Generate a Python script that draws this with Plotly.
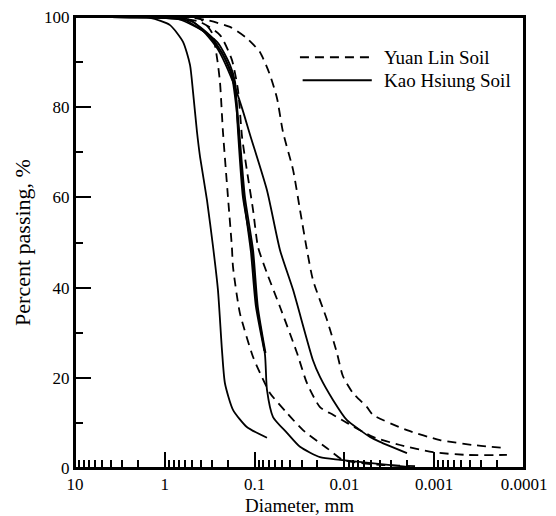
import plotly.graph_objects as go

# ---------------- data (diameter in mm, percent passing) ----------------
# Yuan Lin Soil (dashed)
yl1_d = [1.0, 0.6, 0.405, 0.298, 0.262, 0.243, 0.225, 0.198, 0.179, 0.174, 0.146, 0.104, 0.0871, 0.0673, 0.0436, 0.0289, 0.0156, 0.0104, 0.004, 0.00144]
yl1_p = [100, 100, 99.6, 96.5, 90.9, 85.6, 74.5, 60.1, 49.0, 44.6, 34.4, 24.6, 21.1, 16.6, 12.2, 8.4, 4.4, 1.8, 0.7, 0.4]

yl2_d = [1.2, 0.946, 0.405, 0.243, 0.179, 0.153, 0.138, 0.122, 0.104, 0.0916, 0.0728, 0.0521, 0.0337, 0.0261, 0.0187, 0.0134, 0.00936, 0.00481, 0.0024, 0.00103, 0.000431, 0.000155]
yl2_p = [100, 100, 98.9, 96.0, 90.5, 83.8, 73.4, 66.1, 57.2, 49.0, 43.2, 35.7, 25.5, 18.8, 13.5, 11.8, 10.0, 6.9, 5.1, 3.5, 2.9, 2.9]

yl3_d = [1.0, 0.6, 0.339, 0.188, 0.122, 0.0871, 0.0673, 0.0563, 0.0483, 0.0373, 0.0312, 0.0261, 0.0224, 0.0156, 0.0121, 0.0104, 0.00802, 0.0056, 0.00481, 0.00201, 0.00086, 0.00037, 0.000155]
yl3_p = [100, 100, 99.3, 97.8, 95.3, 92.2, 87.1, 82.0, 74.5, 66.1, 57.2, 48.3, 41.7, 32.8, 25.5, 20.4, 16.6, 13.5, 11.8, 8.4, 6.2, 5.1, 4.4]

# Kao Hsiung Soil (solid)
kh1_d = [4.0, 1.46, 0.875, 0.627, 0.524, 0.485, 0.438, 0.405, 0.339, 0.290, 0.256, 0.231, 0.214, 0.174, 0.122, 0.0728]
kh1_p = [100, 99.8, 98.2, 94.5, 89.4, 83.4, 74.5, 69.0, 59.4, 49.0, 39.5, 26.2, 18.8, 12.9, 9.1, 6.7]

kh2_d = [4.0, 1.5, 0.627, 0.262, 0.188, 0.165, 0.157, 0.153, 0.135, 0.107, 0.094, 0.0766, 0.0728, 0.0623, 0.0436, 0.0312, 0.0187, 0.0112, 0.00186]
kh2_p = [100, 99.9, 99.5, 94.5, 89.4, 85.6, 78.3, 74.5, 60.1, 48.3, 35.7, 25.1, 17.3, 11.3, 7.8, 4.7, 2.4, 1.8, 0.2]

kh3_d = [4.0, 1.5, 0.55, 0.30, 0.21, 0.17, 0.155, 0.148, 0.128, 0.104, 0.092, 0.0755]
kh3_p = [100, 99.9, 99.5, 95.5, 90.5, 86.0, 79.0, 74.5, 60.0, 48.3, 35.7, 25.5]

kh4_d = [4.0, 1.5, 0.7, 0.35, 0.23, 0.18, 0.16, 0.15, 0.132, 0.11, 0.097, 0.078]
kh4_p = [100, 99.9, 99.5, 96.5, 92.0, 87.0, 80.0, 74.0, 60.0, 48.0, 36.0, 26.0]

kh5_d = [4.0, 1.5, 0.485, 0.262, 0.174, 0.138, 0.112, 0.0728, 0.0521, 0.0373, 0.0224, 0.0187, 0.0134, 0.00936, 0.0067, 0.00519, 0.00402, 0.00201]
kh5_p = [100, 99.9, 98.9, 93.1, 85.6, 79.8, 73.8, 61.6, 48.3, 39.5, 23.9, 20.2, 15.1, 10.6, 8.4, 6.9, 5.8, 3.3]

x_tick_vals = [10, 1, 0.1, 0.01, 0.001, 0.0001]
x_tick_text = ["10", "1", "0.1", "0.01", "0.001", "0.0001"]
y_tick_vals = [0, 20, 40, 60, 80, 100]
y_minor_vals = [10, 30, 50, 70, 90]

legend_names = ["Yuan Lin Soil", "Kao Hsiung Soil"]

FONT = "Liberation Serif, Times New Roman, serif"
DASH = "9px,6px"

fig = go.Figure()
for d, p in [(yl1_d, yl1_p), (yl2_d, yl2_p), (yl3_d, yl3_p)]:
    fig.add_trace(go.Scatter(x=d, y=p, mode="lines", showlegend=False, cliponaxis=False,
                             line=dict(color="black", width=1.8, dash=DASH, shape="spline", smoothing=0.6)))
for d, p in [(kh1_d, kh1_p), (kh2_d, kh2_p), (kh3_d, kh3_p), (kh4_d, kh4_p), (kh5_d, kh5_p)]:
    fig.add_trace(go.Scatter(x=d, y=p, mode="lines", showlegend=False, cliponaxis=False,
                             line=dict(color="black", width=1.8, shape="spline", smoothing=0.6)))

x_minor = [m * 10.0 ** e for e in range(-4, 1) for m in range(2, 10)]

fig.update_layout(
    width=556, height=516,
    margin=dict(l=75, r=32, t=17, b=48),
    paper_bgcolor="white", plot_bgcolor="rgba(0,0,0,0)",
    font=dict(family=FONT, size=17, color="black"),
    showlegend=False,
    xaxis=dict(type="log", range=[1, -4], showgrid=False, zeroline=False, automargin=False,
               showline=True, linecolor="black", linewidth=2, mirror=True,
               ticks="inside", ticklen=16, tickwidth=1.5, tickcolor="black",
               tickvals=x_tick_vals, ticktext=x_tick_text,
               minor=dict(tickvals=x_minor, ticks="inside", ticklen=8, tickwidth=1.5, tickcolor="black"),
               title=dict(text="Diameter, mm", standoff=6, font=dict(size=19))),
    yaxis=dict(range=[0, 100], showgrid=False, zeroline=False, automargin=False,
               showline=True, linecolor="black", linewidth=2, mirror=True,
               ticks="inside", ticklen=16, tickwidth=1.5, tickcolor="black",
               tickvals=y_tick_vals,
               minor=dict(tickvals=y_minor_vals, ticks="inside", ticklen=8, tickwidth=1.5, tickcolor="black"),
               title=dict(text="Percent passing, %", standoff=7, font=dict(size=22))),
    # extra overlaid axes used only to draw the top and right frame edges
    xaxis2=dict(overlaying="x", side="top", matches="x", type="log", showline=True, linecolor="black",
                linewidth=2, showticklabels=False, ticks="", showgrid=False, zeroline=False, automargin=False),
    yaxis2=dict(overlaying="y", side="right", matches="y", showline=True, linecolor="black",
                linewidth=2, showticklabels=False, ticks="", showgrid=False, zeroline=False, automargin=False),
)

# plot frame (drawn as well, in case mirrored lines are hidden)
fig.add_shape(type="rect", xref="x domain", yref="y domain", x0=0, x1=1, y0=0, y1=1,
              line=dict(color="black", width=2), layer="above")

# manual legend (long line samples)
fig.add_shape(type="line", xref="paper", yref="paper", x0=0.501, x1=0.661, y0=0.911, y1=0.911,
              line=dict(color="black", width=2, dash=DASH))
fig.add_shape(type="line", xref="paper", yref="paper", x0=0.507, x1=0.661, y0=0.860, y1=0.860,
              line=dict(color="black", width=2))
for name, yy in zip(legend_names, [0.911, 0.860]):
    fig.add_annotation(x=0.684, y=yy, xref="paper", yref="paper", text=name, showarrow=False,
                       xanchor="left", yanchor="middle", font=dict(family=FONT, size=19, color="black"))

# remove the browser's default 8 px body margin so the figure sits at the window origin
fig.write_html("out.html", config={"displayModeBar": False},
               post_script="document.body.style.margin='0px';document.body.style.overflow='hidden';")
